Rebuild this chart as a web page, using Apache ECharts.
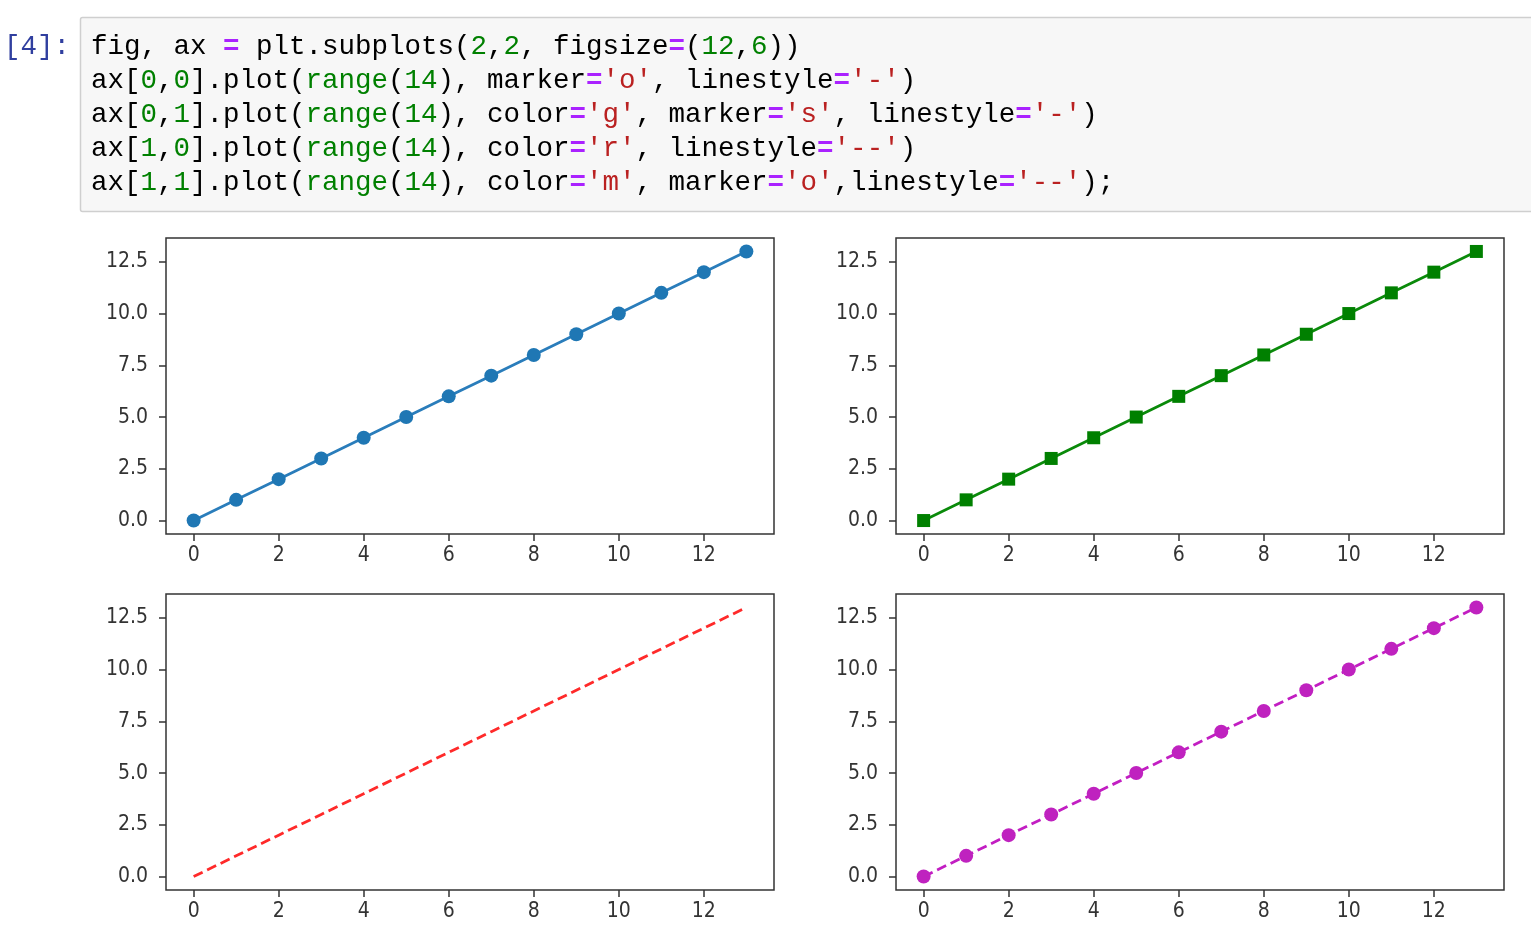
<!DOCTYPE html>
<html>
<head>
<meta charset="utf-8">
<script src="https://cdn.jsdelivr.net/npm/echarts@6/dist/echarts.min.js"></script>
<style>
html,body{margin:0;padding:0;background:#fff;}
#main{width:1531px;height:942px;}
</style>
</head>
<body>
<div id="main"></div>
<script>
// ---- data ----
var xValues = [0, 1, 2, 3, 4, 5, 6, 7, 8, 9, 10, 11, 12, 13];
var yValues = [0, 1, 2, 3, 4, 5, 6, 7, 8, 9, 10, 11, 12, 13];
var xTicks = [0, 2, 4, 6, 8, 10, 12];
var yTicks = [0, 2.5, 5, 7.5, 10, 12.5];
var promptText = '[4]:';
var codeLines = [
  [['k','fig, ax '],['p','='],['k',' plt.subplots('],['n','2'],['k',','],['n','2'],['k',', figsize'],['p','='],['k','('],['n','12'],['k',','],['n','6'],['k','))']],
  [['k','ax['],['n','0'],['k',','],['n','0'],['k','].plot('],['n','range'],['k','('],['n','14'],['k','), marker'],['p','='],['s',"'o'"],['k',', linestyle'],['p','='],['s',"'-'"],['k',')']],
  [['k','ax['],['n','0'],['k',','],['n','1'],['k','].plot('],['n','range'],['k','('],['n','14'],['k','), color'],['p','='],['s',"'g'"],['k',', marker'],['p','='],['s',"'s'"],['k',', linestyle'],['p','='],['s',"'-'"],['k',')']],
  [['k','ax['],['n','1'],['k',','],['n','0'],['k','].plot('],['n','range'],['k','('],['n','14'],['k','), color'],['p','='],['s',"'r'"],['k',', linestyle'],['p','='],['s',"'--'"],['k',')']],
  [['k','ax['],['n','1'],['k',','],['n','1'],['k','].plot('],['n','range'],['k','('],['n','14'],['k','), color'],['p','='],['s',"'m'"],['k',', marker'],['p','='],['s',"'o'"],['k',',linestyle'],['p','='],['s',"'--'"],['k',');']]
];

// ---- chart ----
var chart = echarts.init(document.getElementById('main'), null, {renderer:'canvas'});
var pairs = xValues.map(function(x,i){return [x, yValues[i]];});

var codeFont = '27.5px "Liberation Mono", monospace';
var rich = {
  k:{fill:'#000', font:codeFont},
  p:{fill:'#AA22FF', font:'bold ' + codeFont},
  n:{fill:'#008000', font:codeFont},
  s:{fill:'#BA2121', font:codeFont}
};
function buildRich(tokens){
  return tokens.map(function(t){return '{' + t[0] + '|' + t[1] + '}';}).join('');
}

var graphics = [
  {type:'rect', shape:{x:80.5, y:17.5, width:1470, height:194, r:2}, style:{fill:'#f7f7f7', stroke:'#cfcfcf', lineWidth:1.5}},
  {type:'text', x:4, y:47, style:{text:promptText, font:codeFont, fill:'#303F9F', verticalAlign:'middle'}}
];
codeLines.forEach(function(line, i){
  graphics.push({type:'text', x:91, y:47 + i*34, style:{text:buildRich(line), rich:rich, font:codeFont, verticalAlign:'middle'}});
});

var grids = [
  {left:166, top:238, width:608, height:296},
  {left:896, top:238, width:608, height:296},
  {left:166, top:594, width:608, height:296},
  {left:896, top:594, width:608, height:296}
];
grids.forEach(function(g){ g.show = true; g.borderColor = '#333'; g.borderWidth = 1.5; g.backgroundColor = 'transparent'; g.containLabel = false; });

var labelFont = {fontFamily:'"DejaVu Sans Condensed", "DejaVu Sans", sans-serif', fontSize:21, color:'#333'};
function xAxis(i){
  return {type:'value', gridIndex:i, min:-0.65, max:13.65,
    axisLine:{show:false, onZero:false},
    axisTick:{show:true, length:7, customValues:xTicks, lineStyle:{color:'#333', width:1.5}},
    axisLabel:Object.assign({margin:11, customValues:xTicks, formatter:function(v){return String(v);}}, labelFont),
    splitLine:{show:false}};
}
function yAxis(i){
  return {type:'value', gridIndex:i, min:-0.65, max:13.65,
    axisLine:{show:false, onZero:false},
    axisTick:{show:true, length:7, customValues:yTicks, lineStyle:{color:'#333', width:1.5}},
    axisLabel:Object.assign({margin:18, customValues:yTicks, formatter:function(v){return v.toFixed(1);}}, labelFont),
    splitLine:{show:false}};
}

var series = [
  {type:'line', xAxisIndex:0, yAxisIndex:0, data:pairs, symbol:'circle', symbolSize:14, showAllSymbol:true,
    lineStyle:{color:'#2a7dbb', width:2.8}, itemStyle:{color:'#1f77b4'}},
  {type:'line', xAxisIndex:1, yAxisIndex:1, data:pairs, symbol:'rect', symbolSize:13, showAllSymbol:true,
    lineStyle:{color:'#0a8a0a', width:2.8}, itemStyle:{color:'#008000'}},
  {type:'line', xAxisIndex:2, yAxisIndex:2, data:pairs, symbol:'none',
    lineStyle:{color:'#ff2a2a', width:2.8, type:[10,5]}},
  {type:'line', xAxisIndex:3, yAxisIndex:3, data:pairs, symbol:'circle', symbolSize:14, showAllSymbol:true,
    lineStyle:{color:'#c21ec2', width:2.8, type:[10,5]}, itemStyle:{color:'#bf22bf'}}
];
series.forEach(function(s){ s.animation = false; s.silent = true; });

chart.setOption({
  animation:false,
  backgroundColor:'#ffffff',
  graphic:graphics,
  grid:grids,
  xAxis:[xAxis(0), xAxis(1), xAxis(2), xAxis(3)],
  yAxis:[yAxis(0), yAxis(1), yAxis(2), yAxis(3)],
  series:series
});
</script>
</body>
</html>
